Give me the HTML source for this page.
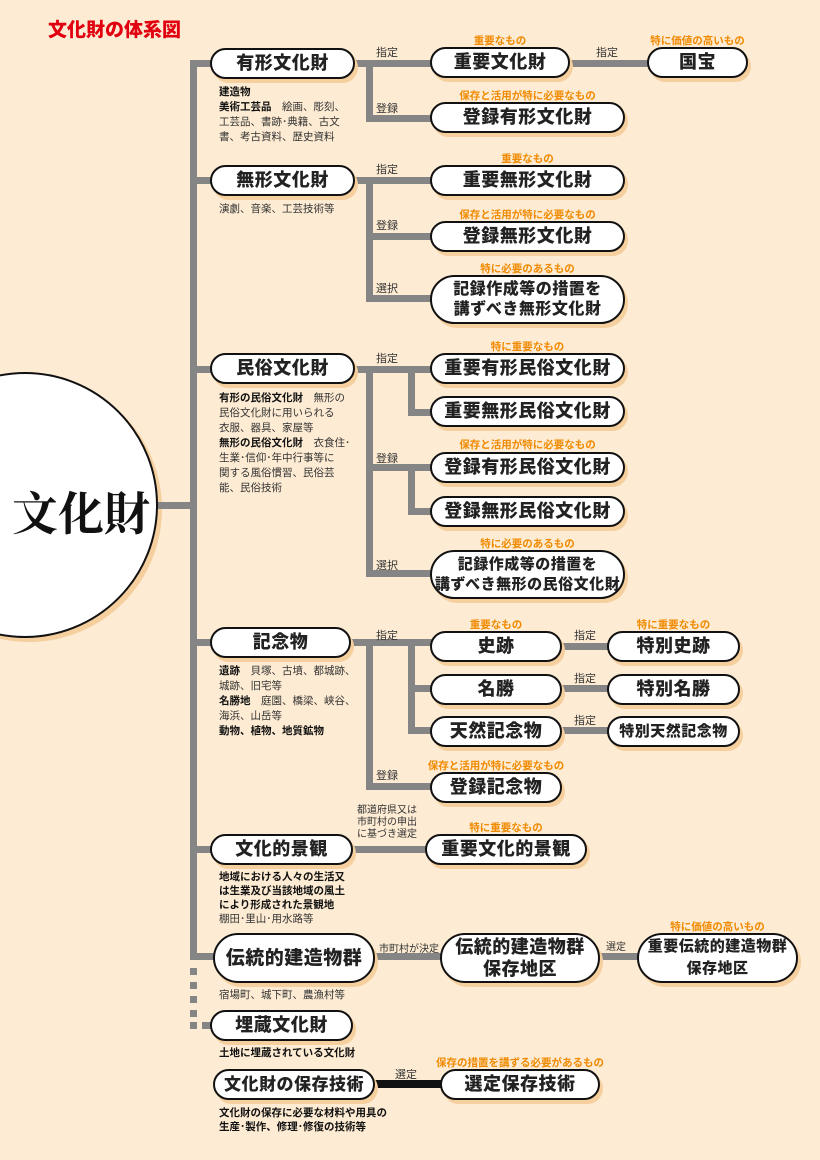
<!DOCTYPE html>
<html><head><meta charset="utf-8">
<style>
*{margin:0;padding:0;box-sizing:border-box}
body{width:820px;height:1160px;background:#fdebd3;position:relative;overflow:hidden;font-family:"Liberation Sans","Noto Sans CJK JP",sans-serif;color:#222}
.b{position:absolute;background:#fff;border:2.5px solid #111;border-radius:999px;display:flex;align-items:center;justify-content:center;text-align:center;font-weight:900;font-size:18px;line-height:21px;box-shadow:3px 4px 0 #f6cf9e;letter-spacing:0.5px}
.h{position:absolute;background:#858585;height:7px}
.v{position:absolute;background:#858585;width:7px}
.l{position:absolute;font-size:11px;color:#333}
.o{position:absolute;font-size:10.5px;color:#f08a00;font-weight:bold;text-align:center}
.d{position:absolute;font-size:10.5px;line-height:15px;color:#333}
.d b{color:#111}
.sq{position:absolute;background:#858585;width:7px;height:7px;left:190px}
</style></head><body>
<div style="position:absolute;left:48px;top:15px;font-size:19px;font-weight:900;color:#e00010">文化財の体系図</div>

<div style="position:absolute;left:-108px;top:372px;width:266px;height:266px;border-radius:50%;background:#fff;border:2.5px solid #111;box-shadow:4px 4px 0 #f6cf9e"></div>
<div style="position:absolute;left:12px;top:478px;font-family:'Noto Serif CJK SC','Liberation Serif',serif;font-size:46px;font-weight:700;color:#111">文化財</div>

<div class="v" style="left:190px;top:60px;height:900px"></div>
<div class="h" style="left:158px;top:502px;width:36px"></div>
<div class="h" style="left:190px;top:60px;width:22px"></div>
<div class="h" style="left:190px;top:177px;width:22px"></div>
<div class="h" style="left:190px;top:366px;width:22px"></div>
<div class="h" style="left:190px;top:639px;width:22px"></div>
<div class="h" style="left:190px;top:846px;width:22px"></div>
<div class="h" style="left:190px;top:953px;width:25px"></div>
<div class="sq" style="top:968px"></div>
<div class="sq" style="top:982px"></div>
<div class="sq" style="top:996px"></div>
<div class="sq" style="top:1010px"></div>
<div class="sq" style="top:1022px"></div>
<div class="h" style="left:202px;top:1022px;width:10px"></div>

<div class="h" style="left:352px;top:60px;width:80px"></div>
<div class="v" style="left:366px;top:60px;height:62px"></div>
<div class="h" style="left:366px;top:115px;width:66px"></div>
<div class="h" style="left:570px;top:60px;width:80px"></div>
<div class="h" style="left:352px;top:177px;width:80px"></div>
<div class="v" style="left:366px;top:177px;height:124px"></div>
<div class="h" style="left:366px;top:233px;width:66px"></div>
<div class="h" style="left:366px;top:295px;width:66px"></div>
<div class="h" style="left:352px;top:366px;width:80px"></div>
<div class="v" style="left:366px;top:366px;height:211px"></div>
<div class="v" style="left:408px;top:366px;height:50px"></div>
<div class="h" style="left:408px;top:409px;width:24px"></div>
<div class="h" style="left:366px;top:464px;width:66px"></div>
<div class="v" style="left:408px;top:464px;height:51px"></div>
<div class="h" style="left:408px;top:508px;width:24px"></div>
<div class="h" style="left:366px;top:570px;width:66px"></div>
<div class="h" style="left:348px;top:639px;width:84px"></div>
<div class="v" style="left:366px;top:639px;height:151px"></div>
<div class="h" style="left:366px;top:783px;width:66px"></div>
<div class="v" style="left:408px;top:639px;height:95px"></div>
<div class="h" style="left:408px;top:685px;width:24px"></div>
<div class="h" style="left:408px;top:727px;width:24px"></div>
<div class="h" style="left:560px;top:643px;width:50px"></div>
<div class="h" style="left:560px;top:685px;width:50px"></div>
<div class="h" style="left:560px;top:727px;width:50px"></div>
<div class="h" style="left:350px;top:846px;width:78px"></div>
<div class="h" style="left:373px;top:953px;width:70px"></div>
<div class="h" style="left:598px;top:953px;width:42px"></div>
<div class="h" style="left:373px;top:1080px;width:70px;background:#111;height:8px"></div>

<div class="b" style="left:210px;top:48px;width:145px;height:31px">有形文化財</div>
<div class="b" style="left:210px;top:165px;width:145px;height:31px">無形文化財</div>
<div class="b" style="left:210px;top:353px;width:145px;height:31px">民俗文化財</div>
<div class="b" style="left:210px;top:627px;width:141px;height:31px">記念物</div>
<div class="b" style="left:210px;top:834px;width:143px;height:31px">文化的景観</div>
<div class="b" style="left:213px;top:933px;width:162px;height:50px;font-size:19px">伝統的建造物群</div>
<div class="b" style="left:210px;top:1010px;width:143px;height:31px">埋蔵文化財</div>
<div class="b" style="left:213px;top:1069px;width:162px;height:31px;font-size:17px">文化財の保存技術</div>

<div class="b" style="left:430px;top:47px;width:140px;height:31px">重要文化財</div>
<div class="b" style="left:647px;top:47px;width:101px;height:31px">国宝</div>
<div class="b" style="left:430px;top:102px;width:195px;height:31px">登録有形文化財</div>
<div class="b" style="left:430px;top:165px;width:195px;height:31px">重要無形文化財</div>
<div class="b" style="left:430px;top:221px;width:195px;height:31px">登録無形文化財</div>
<div class="b" style="left:430px;top:275px;width:195px;height:49px;font-size:16px;line-height:20px">記録作成等の措置を<br>講ずべき無形文化財</div>
<div class="b" style="left:430px;top:353px;width:195px;height:31px">重要有形民俗文化財</div>
<div class="b" style="left:430px;top:396px;width:195px;height:31px">重要無形民俗文化財</div>
<div class="b" style="left:430px;top:452px;width:195px;height:31px">登録有形民俗文化財</div>
<div class="b" style="left:430px;top:496px;width:195px;height:31px">登録無形民俗文化財</div>
<div class="b" style="left:430px;top:550px;width:195px;height:49px;font-size:15px;line-height:20px">記録作成等の措置を<br>講ずべき無形の民俗文化財</div>
<div class="b" style="left:430px;top:631px;width:132px;height:31px">史跡</div>
<div class="b" style="left:430px;top:674px;width:132px;height:31px">名勝</div>
<div class="b" style="left:430px;top:716px;width:132px;height:31px">天然記念物</div>
<div class="b" style="left:607px;top:631px;width:133px;height:31px">特別史跡</div>
<div class="b" style="left:607px;top:674px;width:133px;height:31px">特別名勝</div>
<div class="b" style="left:607px;top:716px;width:133px;height:31px;font-size:15px">特別天然記念物</div>
<div class="b" style="left:430px;top:772px;width:132px;height:31px">登録記念物</div>
<div class="b" style="left:425px;top:834px;width:162px;height:31px">重要文化的景観</div>
<div class="b" style="left:440px;top:933px;width:160px;height:50px;line-height:22px">伝統的建造物群<br>保存地区</div>
<div class="b" style="left:637px;top:933px;width:161px;height:50px;font-size:15px;line-height:22px">重要伝統的建造物群<br>保存地区</div>
<div class="b" style="left:440px;top:1069px;width:160px;height:31px">選定保存技術</div>

<div class="o" style="left:430px;top:33px;width:140px">重要なもの</div>
<div class="o" style="left:627px;top:33px;width:141px">特に価値の高いもの</div>
<div class="o" style="left:410px;top:88px;width:235px">保存と活用が特に必要なもの</div>
<div class="o" style="left:430px;top:151px;width:195px">重要なもの</div>
<div class="o" style="left:410px;top:207px;width:235px">保存と活用が特に必要なもの</div>
<div class="o" style="left:430px;top:261px;width:195px">特に必要のあるもの</div>
<div class="o" style="left:430px;top:339px;width:195px">特に重要なもの</div>
<div class="o" style="left:410px;top:437px;width:235px">保存と活用が特に必要なもの</div>
<div class="o" style="left:430px;top:536px;width:195px">特に必要のあるもの</div>
<div class="o" style="left:430px;top:617px;width:132px">重要なもの</div>
<div class="o" style="left:607px;top:617px;width:133px">特に重要なもの</div>
<div class="o" style="left:410px;top:758px;width:172px">保存と活用が特に必要なもの</div>
<div class="o" style="left:425px;top:820px;width:162px">特に重要なもの</div>
<div class="o" style="left:637px;top:919px;width:161px">特に価値の高いもの</div>
<div class="o" style="left:420px;top:1055px;width:200px">保存の措置を講ずる必要があるもの</div>

<div class="l" style="left:376px;top:44px">指定</div>
<div class="l" style="left:376px;top:100px">登録</div>
<div class="l" style="left:596px;top:44px">指定</div>
<div class="l" style="left:376px;top:161px">指定</div>
<div class="l" style="left:376px;top:217px">登録</div>
<div class="l" style="left:376px;top:280px">選択</div>
<div class="l" style="left:376px;top:350px">指定</div>
<div class="l" style="left:376px;top:450px">登録</div>
<div class="l" style="left:376px;top:557px">選択</div>
<div class="l" style="left:376px;top:627px">指定</div>
<div class="l" style="left:574px;top:627px">指定</div>
<div class="l" style="left:574px;top:670px">指定</div>
<div class="l" style="left:574px;top:712px">指定</div>
<div class="l" style="left:376px;top:767px">登録</div>
<div class="l" style="left:357px;top:805px;font-size:10px;line-height:12px">都道府県又は<br>市町村の申出<br>に基づき選定</div>
<div class="l" style="left:379px;top:940px;font-size:10px">市町村が決定</div>
<div class="l" style="left:606px;top:938px;font-size:10px">選定</div>
<div class="l" style="left:395px;top:1066px">選定</div>

<div class="d" style="left:219px;top:85px"><b>建造物</b><br><b>美術工芸品</b>　絵画、彫刻、<br>工芸品、書跡･典籍、古文<br>書、考古資料、歴史資料</div>
<div class="d" style="left:219px;top:202px">演劇、音楽、工芸技術等</div>
<div class="d" style="left:219px;top:391px"><b>有形の民俗文化財</b>　無形の<br>民俗文化財に用いられる<br>衣服、器具、家屋等<br><b>無形の民俗文化財</b>　衣食住･<br>生業･信仰･年中行事等に<br>関する風俗慣習、民俗芸<br>能、民俗技術</div>
<div class="d" style="left:219px;top:664px"><b>遺跡</b>　貝塚、古墳、都城跡、<br>城跡、旧宅等<br><b>名勝地</b>　庭園、橋梁、峡谷、<br>海浜、山岳等<br><b>動物、植物、地質鉱物</b></div>
<div class="d" style="left:219px;top:870px;line-height:14px"><b>地域における人々の生活又<br>は生業及び当該地域の風土<br>により形成された景観地</b><br>棚田･里山･用水路等</div>
<div class="d" style="left:219px;top:988px">宿場町、城下町、農漁村等</div>
<div class="d" style="left:219px;top:1046px"><b>土地に埋蔵されている文化財</b></div>
<div class="d" style="left:219px;top:1106px;line-height:14px"><b>文化財の保存に必要な材料や用具の<br>生産･製作、修理･修復の技術等</b></div>
</body></html>
